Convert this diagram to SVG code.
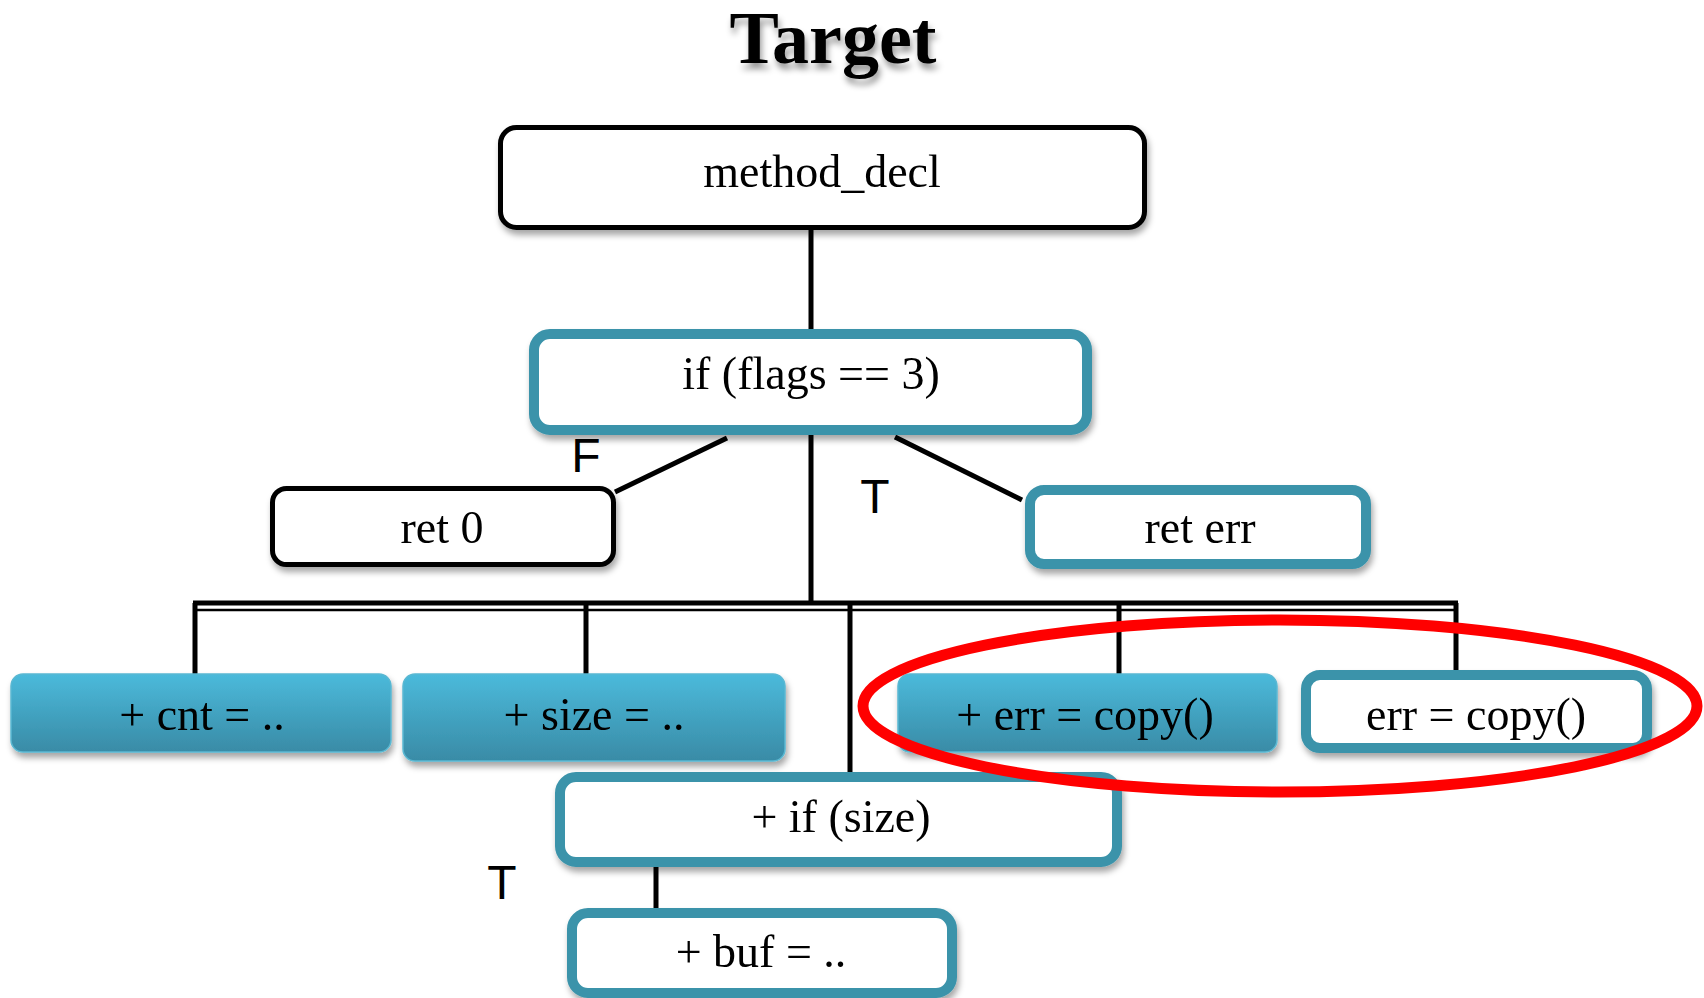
<svg xmlns="http://www.w3.org/2000/svg" width="1704" height="998" viewBox="0 0 1704 998">
<style>
.lbl{font-family:"Liberation Serif","DejaVu Serif",serif;font-size:46px;fill:#000;text-anchor:middle}
.tf{font-family:"Liberation Sans",Arial,sans-serif;font-size:48px;fill:#000;text-anchor:middle}
.blk{fill:#fff;stroke:#000;stroke-width:5}
.teal{fill:#fff;stroke:#3a93aa;stroke-width:10}
.grad{fill:url(#g);stroke:#5ab8d2;stroke-width:1.5}
.ln{stroke:#000;stroke-width:5;fill:none}
</style>
<defs>
<linearGradient id="g" x1="0" y1="0" x2="0" y2="1">
<stop offset="0" stop-color="#4bbadb"/>
<stop offset="1" stop-color="#398ba6"/>
</linearGradient>
<filter id="sh" x="-10%" y="-10%" width="120%" height="140%">
<feDropShadow dx="2" dy="5" stdDeviation="3" flood-color="#000" flood-opacity="0.35"/>
</filter>
<filter id="tsh" x="-10%" y="-20%" width="120%" height="160%">
<feDropShadow dx="2" dy="6" stdDeviation="3" flood-color="#000" flood-opacity="0.4"/>
</filter>
</defs>
<rect width="1704" height="998" fill="#fff"/>
<text x="833" y="63" font-family="'Liberation Serif','DejaVu Serif',serif" font-weight="bold" font-size="74" text-anchor="middle" filter="url(#tsh)">Target</text>
<g id="connectors">
<line class="ln" x1="811" y1="230" x2="811" y2="334"/>
<line class="ln" x1="727" y1="438" x2="615" y2="492"/>
<line class="ln" x1="895" y1="437" x2="1022" y2="500"/>
<line class="ln" x1="811" y1="435" x2="811" y2="603"/>
<line x1="193" y1="603" x2="1458" y2="603" stroke="#000" stroke-width="5"/>
<line x1="193" y1="610" x2="1458" y2="610" stroke="#000" stroke-width="2.5"/>
<line class="ln" x1="195" y1="603" x2="195" y2="674"/>
<line class="ln" x1="586" y1="603" x2="586" y2="674"/>
<line class="ln" x1="850" y1="603" x2="850" y2="775"/>
<line class="ln" x1="1119" y1="603" x2="1119" y2="674"/>
<line class="ln" x1="1456" y1="603" x2="1456" y2="672"/>
<line class="ln" x1="656" y1="866" x2="656" y2="910"/>
</g>
<g id="labels">
<text class="tf" x="586" y="472">F</text>
<text class="tf" x="875" y="513">T</text>
<text class="tf" x="502" y="899">T</text>
</g>
<g id="n_method_decl" filter="url(#sh)">
<rect class="blk" x="500.5" y="127.5" width="644" height="100" rx="16"/>
<text class="lbl" x="822" y="187">method_decl</text>
</g>
<g id="n_if_flags" filter="url(#sh)">
<rect class="teal" x="534" y="334" width="553" height="96" rx="16"/>
<text class="lbl" x="811" y="389">if (flags == 3)</text>
</g>
<g id="n_ret0" filter="url(#sh)">
<rect class="blk" x="272.5" y="488.5" width="341" height="76" rx="14"/>
<text class="lbl" x="442" y="543">ret 0</text>
</g>
<g id="n_reterr" filter="url(#sh)">
<rect class="teal" x="1030" y="490" width="336" height="74" rx="14"/>
<text class="lbl" x="1200" y="543">ret err</text>
</g>
<g id="n_cnt" filter="url(#sh)">
<rect class="grad" x="11" y="674" width="380" height="78" rx="12"/>
<text class="lbl" x="202" y="730">+ cnt = ..</text>
</g>
<g id="n_size" filter="url(#sh)">
<rect class="grad" x="403" y="674" width="382" height="87" rx="12"/>
<text class="lbl" x="594" y="730">+ size = ..</text>
</g>
<g id="n_errcopy_add" filter="url(#sh)">
<rect class="grad" x="898" y="674" width="379" height="78" rx="12"/>
<text class="lbl" x="1085" y="730">+ err = copy()</text>
</g>
<g id="n_errcopy" filter="url(#sh)">
<rect class="teal" x="1306" y="675" width="341" height="73" rx="14"/>
<text class="lbl" x="1476" y="730">err = copy()</text>
</g>
<g id="n_ifsize" filter="url(#sh)">
<rect class="teal" x="560" y="777" width="557" height="85" rx="16"/>
<text class="lbl" x="841" y="832">+ if (size)</text>
</g>
<g id="n_buf" filter="url(#sh)">
<rect class="teal" x="572" y="913" width="380" height="80" rx="16"/>
<text class="lbl" x="761" y="967">+ buf = ..</text>
</g>
<ellipse cx="1280" cy="706" rx="417" ry="86" fill="none" stroke="#f00" stroke-width="11"/>
</svg>
